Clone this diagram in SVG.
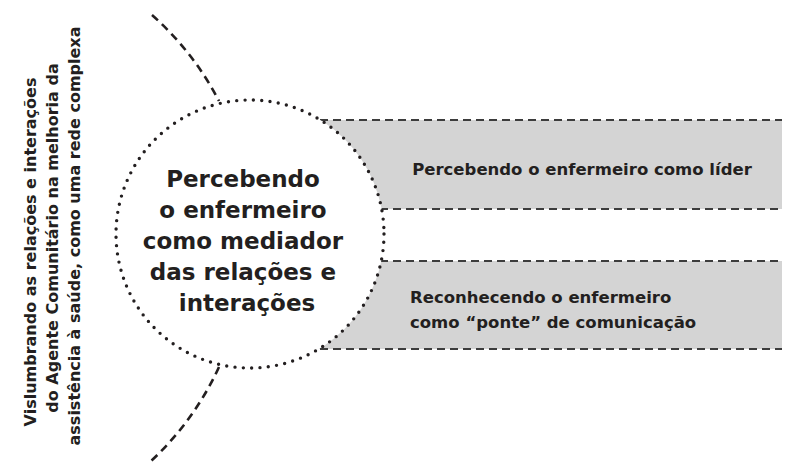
<svg xmlns="http://www.w3.org/2000/svg" width="787" height="466" viewBox="0 0 787 466">
<style>
.t{font-family:"DejaVu Sans","Open Sans",sans-serif;font-weight:700;fill:#231f20}
.box{fill:#d4d4d4}
.edge{stroke:#3c3c3c;stroke-width:2.2;stroke-dasharray:8 5;fill:none}
.arc{stroke:#231f20;stroke-width:2.6;stroke-dasharray:8 5.5;fill:none}
.dot{stroke:#231f20;stroke-width:3.4;stroke-linecap:round;stroke-dasharray:0 8.35;fill:#fff}
</style>
<rect width="787" height="466" fill="#fff"/>
<g id="connectors">
<path class="arc" d="M152,15 A299,299 0 0 1 219,101"/>
<path class="arc" d="M219,367 A299,299 0 0 1 150,462"/>
</g>
<g id="box1">
<rect class="box" x="310" y="120" width="472" height="89"/>
<line class="edge" x1="320" y1="120" x2="782" y2="120"/>
<line class="edge" x1="380" y1="209" x2="782" y2="209"/>
<text class="t" x="582" y="175" font-size="16.5" text-anchor="middle">Percebendo o enfermeiro como líder</text>
</g>
<g id="box2">
<rect class="box" x="310" y="261" width="472" height="88"/>
<line class="edge" x1="380" y1="261" x2="782" y2="261"/>
<line class="edge" x1="320" y1="349" x2="782" y2="349"/>
<text class="t" x="410" y="303" font-size="16.5">Reconhecendo o enfermeiro</text>
<text class="t" x="410" y="328" font-size="16.5">como “ponte” de comunicação</text>
</g>
<g id="center">
<circle class="dot" cx="250" cy="234" r="134"/>
<text class="t" font-size="23" text-anchor="middle">
<tspan x="247" y="187">Percebendo</tspan>
<tspan x="247" y="218">o enfermeiro</tspan>
<tspan x="247" y="249">como mediador</tspan>
<tspan x="247" y="280">das relações e</tspan>
<tspan x="247" y="311">interações</tspan>
</text>
</g>
<g id="side">
<text class="t" font-size="16" text-anchor="middle" transform="translate(36,252) rotate(-90)">Vislumbrando as relações e interações</text>
<text class="t" font-size="16" text-anchor="middle" transform="translate(58,238) rotate(-90)">do Agente Comunitário na melhoria da</text>
<text class="t" font-size="16" text-anchor="middle" transform="translate(80,236) rotate(-90)">assistência à saúde, como uma rede complexa</text>
</g>
</svg>
